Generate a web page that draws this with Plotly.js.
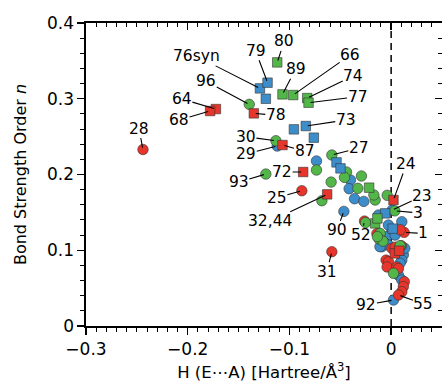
<!DOCTYPE html>
<html><head><meta charset="utf-8">
<script src="https://cdn.plot.ly/plotly-3.0.1.min.js"></script>
<style>html,body{margin:0;padding:0;background:#fff}</style>
</head><body><div id="chart" style="width:442px;height:384px"></div>
<script>
// ---------- DATA ----------
const blueCircX = [-0.112, -0.0734, -0.040, -0.0413, -0.036, -0.0269, -0.0465, 0.001, -0.0125, 0.0105, -0.0092, -0.0027, 0.0, -0.0042, 0.0039, -0.0076, -0.0027, 0.012, 0.0105, 0.0088, 0.0072, 0.0105, 0.0023, 0.0134, -0.011];
const blueCircY = [0.2376, 0.2178, 0.1927, 0.1813, 0.168, 0.1645, 0.1513, 0.153, 0.1465, 0.1377, 0.1047, 0.1333, 0.1223, 0.1179, 0.120, 0.1113, 0.107, 0.094, 0.087, 0.083, 0.067, 0.0607, 0.0343, 0.1025, 0.1047];
const blueCircLbl = ["29", "", "", "", "", "", "90", "23", "", "", "", "", "", "", "", "", "", "", "", "", "", "", "92", "", ""];

const redCircX = [-0.244, -0.0878, -0.0583, -0.0262, 0.0128, -0.014, 0.0007, -0.005, -0.0026, -0.004, 0.0056, 0.0072, 0.013, 0.012, 0.0105, 0.0072, 0.009, 0.004, 0.010];
const redCircY = [0.233, 0.1786, 0.0981, 0.1385, 0.1236, 0.122, 0.1025, 0.087, 0.085, 0.078, 0.078, 0.076, 0.0585, 0.052, 0.0453, 0.041, 0.127, 0.104, 0.106];
const redCircLbl = ["28", "25", "31", "52", "1", "", "", "", "", "", "", "", "", "", "", "55", "", "", ""];

const greenCircX = [-0.1395, -0.1133, -0.0583, -0.1232, -0.0734, -0.0681, -0.059, -0.0439, -0.0459, -0.0292, -0.0157, -0.0327, -0.0039, 0.0036, -0.0252, -0.0108, -0.012, -0.008, -0.0135, 0.0088, 0.0023, -0.017];
const greenCircY = [0.2926, 0.2446, 0.2257, 0.2006, 0.2059, 0.1654, 0.190, 0.2033, 0.1962, 0.198, 0.1663, 0.1817, 0.1725, 0.152, 0.1365, 0.1223, 0.115, 0.112, 0.118, 0.106, 0.0695, 0.173];
const greenCircLbl = ["96", "30", "27", "93", "", "", "", "", "", "", "", "", "", "3", "", "", "", "", "", "", "", ""];

const blueSqX = [-0.129, -0.1215, -0.1232, -0.0839, -0.0956, -0.076, -0.0537, -0.0498, -0.0059, 0.0015];
const blueSqY = [0.3137, 0.3212, 0.300, 0.264, 0.2596, 0.2486, 0.216, 0.2081, 0.1487, 0.1285];
const blueSqLbl = ["76syn", "79", "", "73", "", "", "", "", "", ""];

const greenSqX = [-0.112, -0.1068, -0.0963, -0.0825, -0.0812, -0.0216, -0.0157, -0.0135];
const greenSqY = [0.348, 0.3058, 0.3049, 0.3009, 0.2948, 0.1826, 0.1355, 0.142];
const greenSqLbl = ["80", "89", "66", "74", "77", "", "", ""];

const redSqX = [-0.1723, -0.178, -0.135, -0.1068, -0.0865, -0.0629, 0.0023, 0.0036, 0.0079];
const redSqY = [0.2864, 0.2838, 0.2807, 0.2389, 0.2033, 0.1738, 0.1663, 0.0959, 0.0994];
const redSqLbl = ["64", "68", "78", "87", "72", "32,44", "24", "", ""];

const xTickVals = [-0.3, -0.2, -0.1, 0];
const yTickVals = [0, 0.1, 0.2, 0.3, 0.4];
const refLineX = 0;

// ---------- STYLE ----------
const RED = '#e6352a', BLUE = '#3d8dca', GREEN = '#52b649';
const EDGE = {width: 0.7, color: 'rgba(50,50,50,0.85)'};
const FONT = '"DejaVu Sans", Verdana, sans-serif';

// label offsets (pixels from the point to the label centre)
const labelOffset = {
  "28": [-4, -21], "64": [-34, -10], "68": [-31, 9], "96": [-43, -23], "78": [22, 2],
  "76syn": [-63, -32], "79": [-12, -32], "80": [7, -21], "89": [13, -25], "66": [57, -40],
  "74": [46, -22], "77": [49, -6], "73": [40, -6], "30": [-30, -4], "29": [-31, 8],
  "87": [22, 6], "27": [27, -7], "93": [-27, 8], "72": [-21, 0], "25": [-25, 7],
  "32,44": [-57, 27], "90": [-7, 19], "31": [-5, 20], "52": [-3, 14], "24": [13, -36],
  "23": [30, -14], "3": [23, 2], "1": [19, 1], "92": [-27, 5], "55": [25, 9]
};

function tr(x, y, color, symbol, size) {
  return {x: x, y: y, type: 'scatter', mode: 'markers', hoverinfo: 'skip',
    marker: {color: color, symbol: symbol, size: size, line: EDGE}, showlegend: false};
}
const traces = [
  tr(blueCircX, blueCircY, BLUE, 'circle', 10.5),
  tr(redCircX, redCircY, RED, 'circle', 10.5),
  tr(greenCircX, greenCircY, GREEN, 'circle', 10.5),
  tr(blueSqX, blueSqY, BLUE, 'square', 9.5),
  tr(greenSqX, greenSqY, GREEN, 'square', 9.5),
  tr(redSqX, redSqY, RED, 'square', 9.5),
  {x: [], y: [], xaxis: 'x2', yaxis: 'y2', type: 'scatter', showlegend: false}
];

const annotations = [];
[[blueCircX, blueCircY, blueCircLbl], [redCircX, redCircY, redCircLbl], [greenCircX, greenCircY, greenCircLbl],
 [blueSqX, blueSqY, blueSqLbl], [greenSqX, greenSqY, greenSqLbl], [redSqX, redSqY, redSqLbl]].forEach(([xs, ys, ls]) => {
  ls.forEach((t, i) => {
    if (!t) return;
    const o = labelOffset[t] || [15, -15];
    annotations.push({x: xs[i], y: ys[i], xref: 'x', yref: 'y', text: t, showarrow: true,
      arrowhead: 0, arrowwidth: 1.1, arrowcolor: '#000', ax: o[0], ay: o[1], standoff: 2,
      font: {family: FONT, size: 15.5, color: '#000'}, borderpad: 0});
  });
});

const baseAxis = {showline: true, linecolor: '#000', linewidth: 1.6, showgrid: false, zeroline: false,
  tickcolor: '#000', tickwidth: 1.3, ticklen: 7, tickfont: {family: FONT, size: 17, color: '#000'}};

const layout = {
  width: 442, height: 384, margin: {l: 86, r: 0, t: 23, b: 58},
  paper_bgcolor: '#fff', plot_bgcolor: '#fff', font: {family: FONT, color: '#000'},
  xaxis: Object.assign({}, baseAxis, {range: [-0.3, 0.05], tickvals: xTickVals, ticks: 'outside',
    minor: {dtick: 0.01, tick0: 0, ticks: 'outside', ticklen: 4, tickwidth: 1, tickcolor: '#000'},
    title: {text: 'H (E\u22efA) [Hartree/\u00c5<sup>3</sup>]', font: {family: FONT, size: 16.5, color: '#000'}, standoff: 8}}),
  yaxis: Object.assign({}, baseAxis, {range: [0, 0.4], tickvals: yTickVals, ticks: 'outside',
    minor: {dtick: 0.02, tick0: 0, ticks: 'outside', ticklen: 4, tickwidth: 1, tickcolor: '#000'},
    title: {text: 'Bond Strength Order <i>n</i>', font: {family: FONT, size: 16, color: '#000'}, standoff: 16}}),
  xaxis2: Object.assign({}, baseAxis, {range: [-0.3, 0.05], overlaying: 'x', side: 'top', anchor: 'y2',
    tickvals: xTickVals, ticks: 'inside', showticklabels: false,
    minor: {dtick: 0.01, tick0: 0, ticks: 'inside', ticklen: 4, tickwidth: 1, tickcolor: '#000'}}),
  yaxis2: Object.assign({}, baseAxis, {range: [0, 0.4], overlaying: 'y', side: 'right', anchor: 'x2',
    tickvals: yTickVals, ticks: 'inside', showticklabels: false,
    minor: {dtick: 0.02, tick0: 0, ticks: 'inside', ticklen: 4, tickwidth: 1, tickcolor: '#000'}}),
  shapes: [{type: 'line', xref: 'x', yref: 'paper', x0: refLineX, x1: refLineX, y0: 0, y1: 1,
    line: {color: '#000', width: 1.5, dash: '7px,5px'}, layer: 'below'}],
  annotations: annotations
};

Plotly.newPlot('chart', traces, layout, {staticPlot: true, displayModeBar: false});
</script></body></html>
